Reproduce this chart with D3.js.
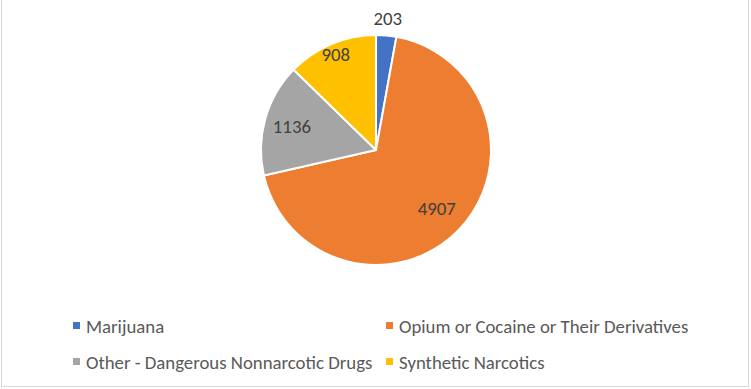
<!DOCTYPE html>
<html lang="en">
<head>
    <meta charset="UTF-8">
    <title>Drug arrests pie</title>
    <script src="https://cdn.jsdelivr.net/npm/d3@7"></script>
    <style>
        body { margin: 0; background: #fff; }
        text { font-family: Carlito, Calibri, Lato, sans-serif; }
    </style>
</head>
<body>
<script type="application/javascript">

    let w = 751, h = 389;

    // data
    let categories = [
        "Marijuana",
        "Opium or Cocaine or Their Derivatives",
        "Other - Dangerous Nonnarcotic Drugs",
        "Synthetic Narcotics"
    ];
    let values = [203, 4907, 1136, 908];
    let colorList = ["#4472c4", "#ed7d31", "#a5a5a5", "#ffc000"];

    // where each data label sits, as a share of the radius (Excel "best fit")
    let labelRadius = [1.15, 0.73, 0.76, 0.90];

    let cx = 376, cy = 150, r = 115;

    let svg = d3.select("body")
        .append("svg")
        .attr("width", w)
        .attr("height", h);

    // chart area border
    svg.append("rect")
        .attr("x", 1.5)
        .attr("y", -2)
        .attr("width", 747)
        .attr("height", 388.5)
        .attr("fill", "none")
        .attr("stroke", "#d9d9d9");

    let color = d3.scaleOrdinal()
        .domain(categories)
        .range(colorList);

    let pie = d3.pie()
        .sort(null)
        .value(function(d) { return d.value; });

    let data = categories.map(function(c, i) {
        return { name: c, value: values[i], lr: labelRadius[i] };
    });
    let arcs = pie(data);

    let arc = d3.arc()
        .innerRadius(0)
        .outerRadius(r);

    let g = svg.append("g")
        .attr("transform", "translate(" + cx + "," + cy + ")");

    g.selectAll("path")
        .data(arcs)
        .enter()
        .append("path")
        .attr("d", arc)
        .attr("fill", function(d) { return color(d.data.name); })
        .attr("stroke", "#fff")
        .attr("stroke-width", 2)
        .attr("stroke-linejoin", "round");

    g.selectAll("text.lbl")
        .data(arcs)
        .enter()
        .append("text")
        .attr("class", "lbl")
        .attr("transform", function(d) {
            let rr = r * d.data.lr;
            let la = d3.arc().innerRadius(rr).outerRadius(rr);
            return "translate(" + la.centroid(d) + ")";
        })
        .attr("text-anchor", "middle")
        .attr("dy", "0.35em")
        .attr("fill", "#404040")
        .style("font-size", "18.8px")
        .text(function(d) { return d.data.value; });

    // legend, two columns
    let legendX = [73, 386], legendY = [326, 362];

    let items = svg.selectAll("g.legend")
        .data(categories)
        .enter()
        .append("g")
        .attr("class", "legend")
        .attr("transform", function(d, i) {
            return "translate(" + legendX[i % 2] + "," + legendY[Math.floor(i / 2)] + ")";
        });

    items.append("rect")
        .attr("x", 0)
        .attr("y", -4)
        .attr("width", 7)
        .attr("height", 7)
        .attr("fill", function(d) { return color(d); });

    items.append("text")
        .attr("x", 13)
        .attr("dy", "0.35em")
        .attr("fill", "#595959")
        .style("font-size", "18.8px")
        .text(function(d) { return d; });

</script>
</body>
</html>
